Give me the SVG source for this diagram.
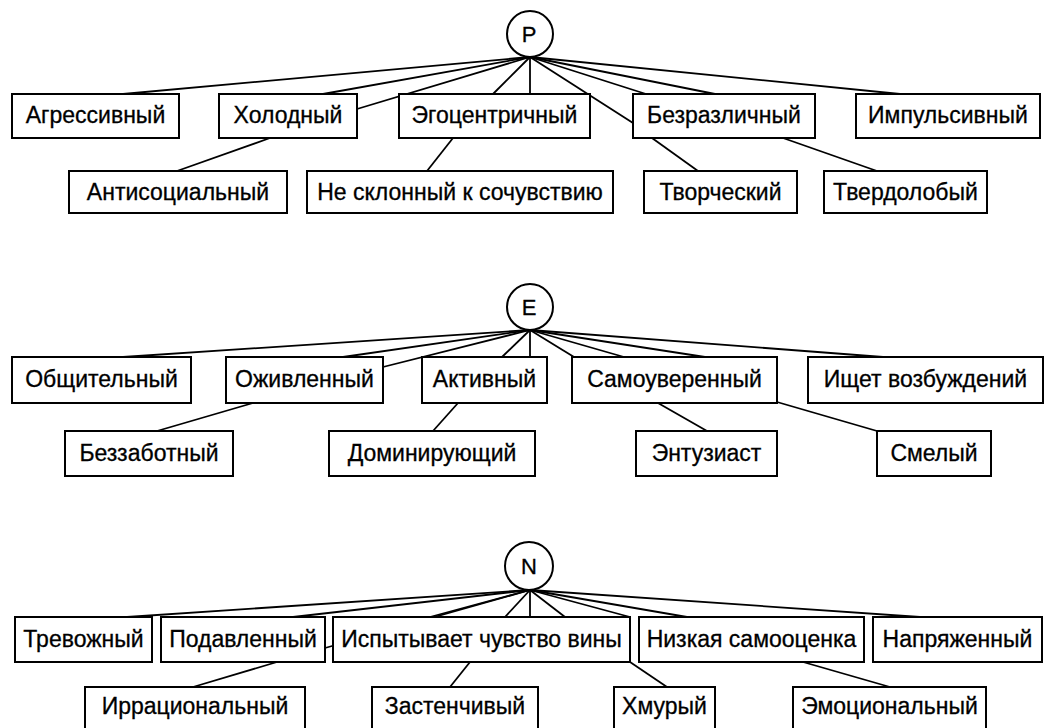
<svg xmlns="http://www.w3.org/2000/svg" width="1045" height="728" viewBox="0 0 1045 728">
<style>
.bg{fill:#ffffff}
.box{fill:#ffffff;stroke:#000000;stroke-width:2}
.circ{fill:#ffffff;stroke:#000000;stroke-width:2}
.lbl{font-family:"Liberation Sans",Arial,sans-serif;font-size:23px;fill:#000000;text-anchor:middle;stroke:#000000;stroke-width:0.3}
.cl{font-family:"Liberation Sans",Arial,sans-serif;font-size:22px;fill:#000000;text-anchor:middle;stroke:#000000;stroke-width:0.3}
.con line{stroke:#000000;stroke-width:1.8;fill:none}
</style>
<rect class="bg" x="0" y="0" width="1045" height="728"/>
<g id="connectors" class="con">
<!-- P -->
<line x1="530" y1="57" x2="123" y2="94"/>
<line x1="530" y1="57" x2="323" y2="94"/>
<line x1="530" y1="57" x2="357" y2="109"/>
<line x1="530" y1="57" x2="493" y2="94"/>
<line x1="530" y1="57" x2="530" y2="94"/>
<line x1="530" y1="57" x2="633" y2="123"/>
<line x1="530" y1="57" x2="646" y2="94"/>
<line x1="530" y1="57" x2="715" y2="94"/>
<line x1="530" y1="57" x2="900" y2="94"/>
<line x1="270" y1="138" x2="177" y2="171"/>
<line x1="453" y1="138" x2="427" y2="171"/>
<line x1="652" y1="138" x2="698" y2="171"/>
<line x1="783" y1="138" x2="877" y2="171"/>
<!-- E -->
<line x1="530" y1="330" x2="123" y2="357"/>
<line x1="530" y1="330" x2="343" y2="357"/>
<line x1="530" y1="330" x2="383" y2="367"/>
<line x1="530" y1="330" x2="502" y2="357"/>
<line x1="530" y1="330" x2="530" y2="357"/>
<line x1="530" y1="330" x2="574" y2="357"/>
<line x1="530" y1="330" x2="624" y2="357"/>
<line x1="530" y1="330" x2="705" y2="357"/>
<line x1="530" y1="330" x2="883" y2="357"/>
<line x1="253" y1="403" x2="157" y2="431"/>
<line x1="458" y1="403" x2="433" y2="431"/>
<line x1="658" y1="403" x2="707" y2="431"/>
<line x1="777" y1="402" x2="877" y2="431"/>
<!-- N -->
<line x1="530" y1="590" x2="127" y2="617"/>
<line x1="530" y1="590" x2="293" y2="617"/>
<line x1="530" y1="590" x2="325" y2="648"/>
<line x1="530" y1="590" x2="430" y2="617"/>
<line x1="530" y1="590" x2="505" y2="617"/>
<line x1="530" y1="590" x2="530" y2="617"/>
<line x1="530" y1="590" x2="565" y2="617"/>
<line x1="530" y1="590" x2="630" y2="617"/>
<line x1="530" y1="590" x2="687" y2="617"/>
<line x1="530" y1="590" x2="920" y2="617"/>
<line x1="277" y1="662" x2="193" y2="687"/>
<line x1="470" y1="662" x2="450" y2="687"/>
<line x1="630" y1="662" x2="667" y2="687"/>
<line x1="803" y1="662" x2="890" y2="687"/>
</g>
<!-- P section -->
<g id="node-P"><circle class="circ" cx="530" cy="34" r="23"/><text class="cl" x="529" y="42">P</text></g>
<g id="node-agressivny"><rect class="box" x="12" y="94" width="167" height="44"/><text class="lbl" x="95.5" y="123">Агрессивный</text></g>
<g id="node-holodny"><rect class="box" x="219" y="94" width="138" height="44"/><text class="lbl" x="288" y="123">Холодный</text></g>
<g id="node-egocentrichny"><rect class="box" x="399" y="94" width="191" height="44"/><text class="lbl" x="494.5" y="123">Эгоцентричный</text></g>
<g id="node-bezrazlichny"><rect class="box" x="633" y="94" width="182" height="44"/><text class="lbl" x="724" y="123">Безразличный</text></g>
<g id="node-impulsivny"><rect class="box" x="856" y="94" width="184" height="44"/><text class="lbl" x="948" y="123">Импульсивный</text></g>
<g id="node-antisocialny"><rect class="box" x="69" y="171" width="218" height="42"/><text class="lbl" x="178" y="200">Антисоциальный</text></g>
<g id="node-ne-sklonny"><rect class="box" x="307" y="171" width="306" height="42"/><text class="lbl" x="460" y="200">Не склонный к сочувствию</text></g>
<g id="node-tvorchesky"><rect class="box" x="644" y="171" width="153" height="42"/><text class="lbl" x="720.5" y="200">Творческий</text></g>
<g id="node-tverdolobiy"><rect class="box" x="824" y="171" width="163" height="42"/><text class="lbl" x="905.5" y="200">Твердолобый</text></g>
<!-- E section -->
<g id="node-E"><circle class="circ" cx="530" cy="307" r="23"/><text class="cl" x="529" y="315">E</text></g>
<g id="node-obshitelny"><rect class="box" x="12" y="357" width="179" height="46"/><text class="lbl" x="101.5" y="387">Общительный</text></g>
<g id="node-ozhivlenny"><rect class="box" x="226" y="357" width="157" height="46"/><text class="lbl" x="304.5" y="387">Оживленный</text></g>
<g id="node-aktivny"><rect class="box" x="422" y="357" width="125" height="46"/><text class="lbl" x="484.5" y="387">Активный</text></g>
<g id="node-samouverenny"><rect class="box" x="572" y="357" width="205" height="46"/><text class="lbl" x="674.5" y="387">Самоуверенный</text></g>
<g id="node-ishet"><rect class="box" x="808" y="357" width="235" height="46"/><text class="lbl" x="925.5" y="387">Ищет возбуждений</text></g>
<g id="node-bezzabotny"><rect class="box" x="65" y="431" width="168" height="45"/><text class="lbl" x="149" y="461">Беззаботный</text></g>
<g id="node-dominiruyushy"><rect class="box" x="329" y="431" width="206" height="45"/><text class="lbl" x="432" y="461">Доминирующий</text></g>
<g id="node-entuziast"><rect class="box" x="636" y="431" width="141" height="45"/><text class="lbl" x="706.5" y="461">Энтузиаст</text></g>
<g id="node-smely"><rect class="box" x="877" y="431" width="114" height="45"/><text class="lbl" x="934" y="461">Смелый</text></g>
<!-- N section -->
<g id="node-N"><circle class="circ" cx="529" cy="566" r="24"/><text class="cl" x="529" y="574">N</text></g>
<g id="node-trevozhny"><rect class="box" x="15" y="617" width="137" height="45"/><text class="lbl" x="83.5" y="647">Тревожный</text></g>
<g id="node-podavlenny"><rect class="box" x="161" y="617" width="164" height="45"/><text class="lbl" x="243" y="647">Подавленный</text></g>
<g id="node-ispytyvaet"><rect class="box" x="333" y="617" width="297" height="45"/><text class="lbl" x="481.5" y="647">Испытывает чувство вины</text></g>
<g id="node-nizkaya"><rect class="box" x="639" y="617" width="225" height="45"/><text class="lbl" x="751.5" y="647">Низкая самооценка</text></g>
<g id="node-napryazhenny"><rect class="box" x="873" y="617" width="169" height="45"/><text class="lbl" x="957.5" y="647">Напряженный</text></g>
<g id="node-irracionalny"><rect class="box" x="85" y="687" width="220" height="55"/><text class="lbl" x="195" y="714">Иррациональный</text></g>
<g id="node-zastenchivy"><rect class="box" x="372" y="687" width="166" height="55"/><text class="lbl" x="455" y="714">Застенчивый</text></g>
<g id="node-hmury"><rect class="box" x="614" y="687" width="101" height="55"/><text class="lbl" x="664.5" y="714">Хмурый</text></g>
<g id="node-emocionalny"><rect class="box" x="793" y="687" width="193" height="55"/><text class="lbl" x="889.5" y="714">Эмоциональный</text></g>
</svg>
